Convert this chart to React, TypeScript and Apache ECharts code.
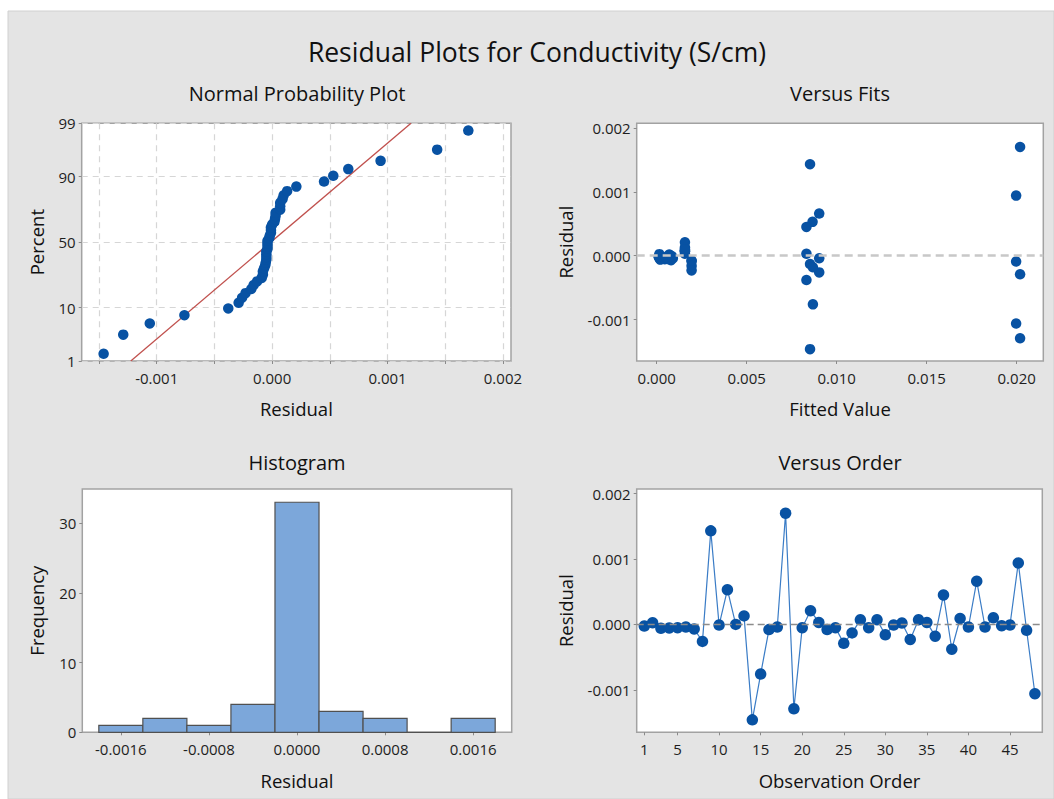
import React, { useEffect, useRef } from "react";
import * as echarts from "echarts";

// Residuals in observation order (S/cm)
const residuals: number[] = [
  -0.000025, 0.000025, -0.00006, -0.000055, -0.00005, -0.00004, -0.00007, -0.00026, 0.00143, -0.00001,
  0.00053, 0.0, 0.00013, -0.00146, -0.00076, -0.00008, -0.00004, 0.0017, -0.00129, -0.00005,
  0.00021, 0.00003, -0.00008, -0.00005, -0.00029, -0.00013, 0.00007, -0.00005, 0.00007, -0.00016,
  -0.00001, 0.00002, -0.00023, 0.00007, 0.00003, -0.00018, 0.00045, -0.00038, 0.00009, -0.00004,
  0.00066, -0.00004, 0.0001, -0.00002, -0.00001, 0.00094, -0.00009, -0.00106,
];

// Fitted values in observation order (S/cm)
const fittedValues: number[] = [
  0.00012, 0.00015, 0.0002, 0.00045, 0.0006, 0.0007, 0.0008, 0.00903, 0.00852, 0.00075,
  0.00866, 0.00078, 0.00157, 0.00852, 0.00868, 0.00194, 0.0004, 0.02019, 0.02019, 0.00018,
  0.00157, 0.00157, 0.00194, 0.00065, 0.02019, 0.00852, 0.00157, 0.0008, 0.00157, 0.00194,
  0.00012, 0.0007, 0.00194, 0.00157, 0.00832, 0.00868, 0.00832, 0.00832, 0.00157, 0.0009,
  0.00903, 0.00903, 0.00157, 0.0005, 0.00085, 0.01997, 0.01997, 0.01997,
];

// Histogram bins: [lower edge, upper edge, frequency]
const histBins: [number, number, number][] = [
  [-0.0018, -0.0014, 1],
  [-0.0014, -0.001, 2],
  [-0.001, -0.0006, 1],
  [-0.0006, -0.0002, 4],
  [-0.0002, 0.0002, 33],
  [0.0002, 0.0006, 3],
  [0.0006, 0.001, 2],
  [0.001, 0.0014, 0],
  [0.0014, 0.0018, 2],
];

// Tick values
const percentTicks = [1, 10, 50, 90, 99];
const probGridX = [-0.0015, -0.001, -0.0005, 0, 0.0005, 0.001, 0.0015, 0.002];
const probLabelX = [-0.001, 0, 0.001, 0.002];
const residualTicks = [-0.001, 0, 0.001, 0.002];
const fitTicks = [0, 0.005, 0.01, 0.015, 0.02];
const histTicks = [-0.0016, -0.0008, 0, 0.0008, 0.0016];
const freqTicks = [0, 10, 20, 30];
const orderTicks = [1, 5, 10, 15, 20, 25, 30, 35, 40, 45];

// Inverse of the standard normal CDF (Acklam's rational approximation)
function normInv(p: number): number {
  const a = [-39.69683028665376, 220.9460984245205, -275.9285104469687, 138.357751867269, -30.66479806614716, 2.506628277459239];
  const b = [-54.47609879822406, 161.5858368580409, -155.6989798598866, 66.80131188771972, -13.28068155288572];
  const c = [-0.007784894002430293, -0.3223964580411365, -2.400758277161838, -2.549732539343734, 4.374664141464968, 2.938163982698783];
  const d = [0.007784695709041462, 0.3224671290700398, 2.445134137142996, 3.754408661907416];
  const pl = 0.02425;
  if (p < pl) {
    const q = Math.sqrt(-2 * Math.log(p));
    return (((((c[0] * q + c[1]) * q + c[2]) * q + c[3]) * q + c[4]) * q + c[5]) / ((((d[0] * q + d[1]) * q + d[2]) * q + d[3]) * q + 1);
  }
  if (p <= 1 - pl) {
    const q = p - 0.5;
    const r = q * q;
    return ((((((a[0] * r + a[1]) * r + a[2]) * r + a[3]) * r + a[4]) * r + a[5]) * q) / (((((b[0] * r + b[1]) * r + b[2]) * r + b[3]) * r + b[4]) * r + 1);
  }
  const q = Math.sqrt(-2 * Math.log(1 - p));
  return -(((((c[0] * q + c[1]) * q + c[2]) * q + c[3]) * q + c[4]) * q + c[5]) / ((((d[0] * q + d[1]) * q + d[2]) * q + d[3]) * q + 1);
}

const FONT = "'Open Sans', 'Noto Sans', sans-serif";
const TEXT = "#111111";
const DOT = "#0852a3";
const FRAME = "#a2a2a2";
const GRIDLINE = "#d6d6d6";

export default function App() {
  const ref = useRef<HTMLDivElement>(null);

  useEffect(() => {
    if (!ref.current) return;
    const chart = echarts.init(ref.current, undefined, { renderer: "svg" });

    const n = residuals.length;
    const sorted = [...residuals].sort((x, y) => x - y);
    const probPoints = sorted.map((r, i) => [r, normInv((i + 1 - 0.3) / (n + 0.4))]);
    const mean = residuals.reduce((s, v) => s + v, 0) / n;
    const sd = Math.sqrt(residuals.reduce((s, v) => s + (v - mean) ** 2, 0) / (n - 1));
    const zLo = normInv(0.01);
    const zHi = normInv(0.99);
    const fitLine = [
      [mean + sd * zLo, zLo],
      [mean + sd * zHi, zHi],
    ];
    const percentZ = percentTicks.map((p) => normInv(p / 100));
    const fitsPoints = residuals.map((r, i) => [fittedValues[i], r]);
    const orderPoints = residuals.map((r, i) => [i + 1, r]);

    const labelStyle = { color: "#1e1e1e", fontFamily: FONT, fontSize: 15 };
    const nameStyle = { color: TEXT, fontFamily: FONT, fontSize: 18.5, fontWeight: 500 };
    const tick = { show: true, length: 3, lineStyle: { color: "#8a8a8a" } };
    const noLine = { show: false, onZero: false };

    const grids = [
      { left: 81.7, top: 123.3, width: 429.3, height: 237.7 },
      { left: 636.7, top: 123.3, width: 406.6, height: 237.7 },
      { left: 82.3, top: 489, width: 429.4, height: 243.3 },
      { left: 636.7, top: 489, width: 405.6, height: 243.3 },
    ].map((g) => ({ ...g, show: true, backgroundColor: "#ffffff", borderColor: FRAME, borderWidth: 1.5 }));

    const fmt = (digits: number) => (v: number) => (Math.abs(v) < 1e-12 ? (0).toFixed(digits) : v.toFixed(digits));

    const xAxes = [
      {
        gridIndex: 0, type: "value", min: -0.00165, max: 0.00207,
        name: "Residual", nameLocation: "middle", nameGap: 38, nameTextStyle: nameStyle,
        axisLine: noLine, axisTick: { ...tick, customValues: probGridX },
        axisLabel: { ...labelStyle, margin: 9, customValues: probLabelX, formatter: fmt(3) },
        splitLine: { show: true, lineStyle: { color: GRIDLINE, type: [6, 5], width: 1.2 } },
      },
      {
        gridIndex: 1, type: "value", min: -0.00111, max: 0.02148,
        name: "Fitted Value", nameLocation: "middle", nameGap: 38, nameTextStyle: nameStyle,
        axisLine: noLine, axisTick: { ...tick, customValues: fitTicks },
        axisLabel: { ...labelStyle, margin: 9, customValues: fitTicks, formatter: fmt(3) },
        splitLine: { show: false },
      },
      {
        gridIndex: 2, type: "value", min: -0.00195, max: 0.00195,
        name: "Residual", nameLocation: "middle", nameGap: 39, nameTextStyle: nameStyle,
        axisLine: noLine, axisTick: { ...tick, customValues: histTicks },
        axisLabel: { ...labelStyle, margin: 9, customValues: histTicks, formatter: fmt(4) },
        splitLine: { show: false },
      },
      {
        gridIndex: 3, type: "value", min: 0.085, max: 48.89,
        name: "Observation Order", nameLocation: "middle", nameGap: 39, nameTextStyle: nameStyle,
        axisLine: noLine, axisTick: { ...tick, customValues: orderTicks },
        axisLabel: { ...labelStyle, margin: 9, customValues: orderTicks },
        splitLine: { show: false },
      },
    ];

    const yAxes = [
      {
        gridIndex: 0, type: "value", min: zLo, max: zHi,
        name: "Percent", nameLocation: "middle", nameGap: 36, nameTextStyle: nameStyle,
        axisLine: noLine, axisTick: { ...tick, customValues: percentZ },
        axisLabel: {
          ...labelStyle, margin: 6, customValues: percentZ,
          formatter: (v: number) => {
            let best = 0;
            percentZ.forEach((z, i) => { if (Math.abs(z - v) < Math.abs(percentZ[best] - v)) best = i; });
            return String(percentTicks[best]);
          },
        },
        splitLine: { show: true, lineStyle: { color: GRIDLINE, type: [6, 5], width: 1.2 } },
      },
      {
        gridIndex: 1, type: "value", min: -0.001645, max: 0.00207,
        name: "Residual", nameLocation: "middle", nameGap: 62, nameTextStyle: nameStyle,
        axisLine: noLine, axisTick: { ...tick, customValues: residualTicks },
        axisLabel: { ...labelStyle, margin: 6, customValues: residualTicks, formatter: fmt(3) },
        splitLine: { show: false },
      },
      {
        gridIndex: 2, type: "value", min: 0, max: 34.9,
        name: "Frequency", nameLocation: "middle", nameGap: 36, nameTextStyle: nameStyle,
        axisLine: noLine, axisTick: { ...tick, customValues: freqTicks },
        axisLabel: { ...labelStyle, margin: 6, customValues: freqTicks },
        splitLine: { show: false },
      },
      {
        gridIndex: 3, type: "value", min: -0.00165, max: 0.00207,
        name: "Residual", nameLocation: "middle", nameGap: 62, nameTextStyle: nameStyle,
        axisLine: noLine, axisTick: { ...tick, customValues: residualTicks },
        axisLabel: { ...labelStyle, margin: 6, customValues: residualTicks, formatter: fmt(3) },
        splitLine: { show: false },
      },
    ];

    const panelTitle = (text: string, x: number, y: number) => ({
      type: "text", x, y, z: 10,
      style: { text, fill: TEXT, font: `500 20px ${FONT}`, textAlign: "center", textVerticalAlign: "middle" },
    });

    chart.setOption({
      animation: false,
      backgroundColor: "#ffffff",
      graphic: [
        { type: "rect", z: -10, shape: { x: 8, y: 11, width: 1046, height: 788 }, style: { fill: "#e4e4e4", stroke: "#d0d0d0", lineWidth: 1 } },
        {
          type: "text", x: 537, y: 52, z: 10,
          style: { text: "Residual Plots for Conductivity (S/cm)", fill: TEXT, font: `500 26.5px ${FONT}`, textAlign: "center", textVerticalAlign: "middle" },
        },
        panelTitle("Normal Probability Plot", 297, 93),
        panelTitle("Versus Fits", 840, 93),
        panelTitle("Histogram", 297, 462),
        panelTitle("Versus Order", 840, 462),
      ],
      grid: grids,
      xAxis: xAxes,
      yAxis: yAxes,
      series: [
        {
          type: "line", xAxisIndex: 0, yAxisIndex: 0, data: fitLine, showSymbol: false, symbol: "none",
          lineStyle: { color: "#c0504d", width: 1.3 }, silent: true, z: 3,
        },
        {
          type: "scatter", xAxisIndex: 0, yAxisIndex: 0, data: probPoints, symbolSize: 10.5,
          itemStyle: { color: DOT, opacity: 1 }, z: 4,
        },
        {
          type: "scatter", xAxisIndex: 1, yAxisIndex: 1, data: fitsPoints, symbolSize: 10.5,
          itemStyle: { color: DOT, opacity: 1 }, z: 4,
          markLine: {
            silent: true, symbol: "none", label: { show: false },
            lineStyle: { color: "#c8c8c8", type: [8, 5], width: 2.5 },
            data: [{ yAxis: 0 }],
          },
        },
        {
          type: "custom", xAxisIndex: 2, yAxisIndex: 2, data: histBins,
          encode: { x: [0, 1], y: 2 },
          renderItem: (_params: any, api: any) => {
            const p0 = api.coord([api.value(0), api.value(2)]);
            const p1 = api.coord([api.value(1), 0]);
            return {
              type: "rect",
              shape: { x: p0[0], y: p0[1], width: p1[0] - p0[0], height: p1[1] - p0[1] },
              style: { fill: "#7ca7da", stroke: "#505050", lineWidth: 1.2 },
            };
          },
        },
        {
          type: "line", xAxisIndex: 3, yAxisIndex: 3, data: orderPoints, symbol: "circle", symbolSize: 11.5,
          lineStyle: { color: "#3a7cc6", width: 1.2 }, itemStyle: { color: DOT, opacity: 1 }, z: 4,
          markLine: {
            silent: true, symbol: "none", label: { show: false },
            lineStyle: { color: "#8c8c8c", type: [7, 4], width: 1.3 },
            data: [{ yAxis: 0 }],
          },
        },
      ],
    });

    return () => chart.dispose();
  }, []);

  return (
    <div
      ref={ref}
      style={{ position: "absolute", left: 0, top: 0, width: 1054, height: 799 }}
    />
  );
}
